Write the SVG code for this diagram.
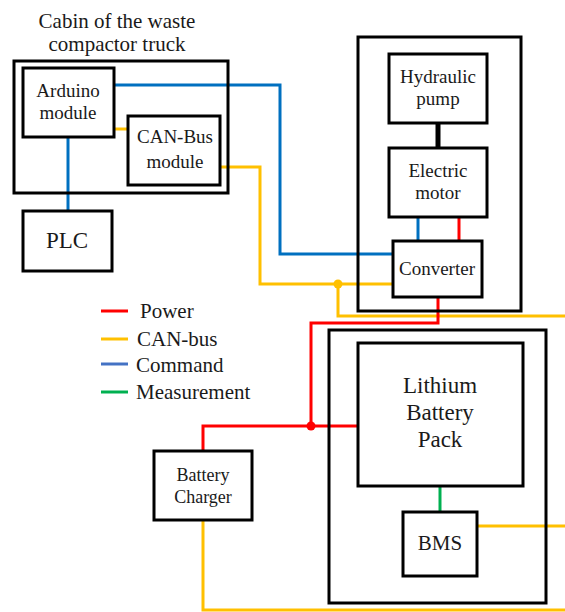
<svg xmlns="http://www.w3.org/2000/svg" width="565" height="612" viewBox="0 0 565 612">
<rect width="565" height="612" fill="#fff"/>
<g id="connectors" fill="none" stroke-width="3">
<g stroke="#0070C0">
<path d="M114,85 H280 V254 H393"/>
<path d="M68,137 V211"/>
<path d="M418,217 V241"/>
</g>
<g stroke="#FFC000">
<path d="M114,129 H128"/>
<path d="M220,167 H260 V284 H393"/>
<path d="M338,284 V316 H565"/>
<path d="M477,526 H565"/>
<path d="M203,520 V610 H565"/>
</g>
<g stroke="#FF0000">
<path d="M459,217 V241"/>
<path d="M438,297 V323 H311 V426"/>
<path d="M203,451 V426 H358"/>
</g>
<path d="M440,486 V512" stroke="#00B050"/>
<path d="M438,123 V148" stroke="#000" stroke-width="5"/>
<circle cx="338" cy="284" r="4.5" fill="#FFC000" stroke="none"/>
<circle cx="311" cy="426" r="4.5" fill="#FF0000" stroke="none"/>
</g>
<g font-family="Liberation Serif" fill="#1a1a1a">
<g id="cabin">
<rect x="14" y="61" width="214" height="132" fill="none" stroke="#000" stroke-width="3"/>
<text text-anchor="middle" x="117" y="28" font-size="21">Cabin of the waste</text>
<text text-anchor="middle" x="117" y="51" font-size="21">compactor truck</text>
</g>
<g id="arduino">
<rect x="23" y="68" width="91" height="69" fill="none" stroke="#000" stroke-width="3"/>
<text text-anchor="middle" x="68" y="97" font-size="19">Arduino</text>
<text text-anchor="middle" x="68" y="119" font-size="19">module</text>
</g>
<g id="canbus">
<rect x="128" y="116" width="92" height="69" fill="none" stroke="#000" stroke-width="3"/>
<text text-anchor="middle" x="175" y="143" font-size="19">CAN-Bus</text>
<text text-anchor="middle" x="175" y="168" font-size="19">module</text>
</g>
<g id="plc">
<rect x="23" y="211" width="89" height="60" fill="none" stroke="#000" stroke-width="3"/>
<text text-anchor="middle" x="67" y="248" font-size="23">PLC</text>
</g>
<g id="drive">
<rect x="358" y="37" width="163" height="274" fill="none" stroke="#000" stroke-width="3"/>
</g>
<g id="pump">
<rect x="389" y="54" width="98" height="69" fill="none" stroke="#000" stroke-width="3"/>
<text text-anchor="middle" x="438" y="83" font-size="19">Hydraulic</text>
<text text-anchor="middle" x="438" y="105" font-size="19">pump</text>
</g>
<g id="motor">
<rect x="389" y="148" width="98" height="69" fill="none" stroke="#000" stroke-width="3"/>
<text text-anchor="middle" x="438" y="177" font-size="19">Electric</text>
<text text-anchor="middle" x="438" y="199" font-size="19">motor</text>
</g>
<g id="converter">
<rect x="393" y="241" width="89" height="56" fill="none" stroke="#000" stroke-width="3"/>
<text text-anchor="middle" x="437" y="275" font-size="19">Converter</text>
</g>
<g id="legend" font-size="21">
<path d="M101,311 H128" stroke="#FF0000" stroke-width="3"/>
<path d="M101,339 H128" stroke="#FFC000" stroke-width="3"/>
<path d="M101,364 H128" stroke="#4472C4" stroke-width="3"/>
<path d="M101,392 H128" stroke="#00B050" stroke-width="3"/>
<text x="140" y="318">Power</text>
<text x="137" y="346">CAN-bus</text>
<text x="136" y="372">Command</text>
<text x="136" y="399">Measurement</text>
</g>
<g id="battery-enclosure">
<rect x="329" y="330" width="217" height="273" fill="none" stroke="#000" stroke-width="3"/>
</g>
<g id="lithium">
<rect x="358" y="343" width="165" height="143" fill="none" stroke="#000" stroke-width="3"/>
<text text-anchor="middle" x="440" y="393" font-size="23">Lithium</text>
<text text-anchor="middle" x="440" y="420" font-size="23">Battery</text>
<text text-anchor="middle" x="440" y="447" font-size="23">Pack</text>
</g>
<g id="bms">
<rect x="403" y="512" width="74" height="64" fill="none" stroke="#000" stroke-width="3"/>
<text text-anchor="middle" x="440" y="550" font-size="21">BMS</text>
</g>
<g id="charger">
<rect x="154" y="451" width="98" height="69" fill="none" stroke="#000" stroke-width="3"/>
<text text-anchor="middle" x="203" y="481" font-size="18">Battery</text>
<text text-anchor="middle" x="203" y="503" font-size="18">Charger</text>
</g>
</g>
</svg>
